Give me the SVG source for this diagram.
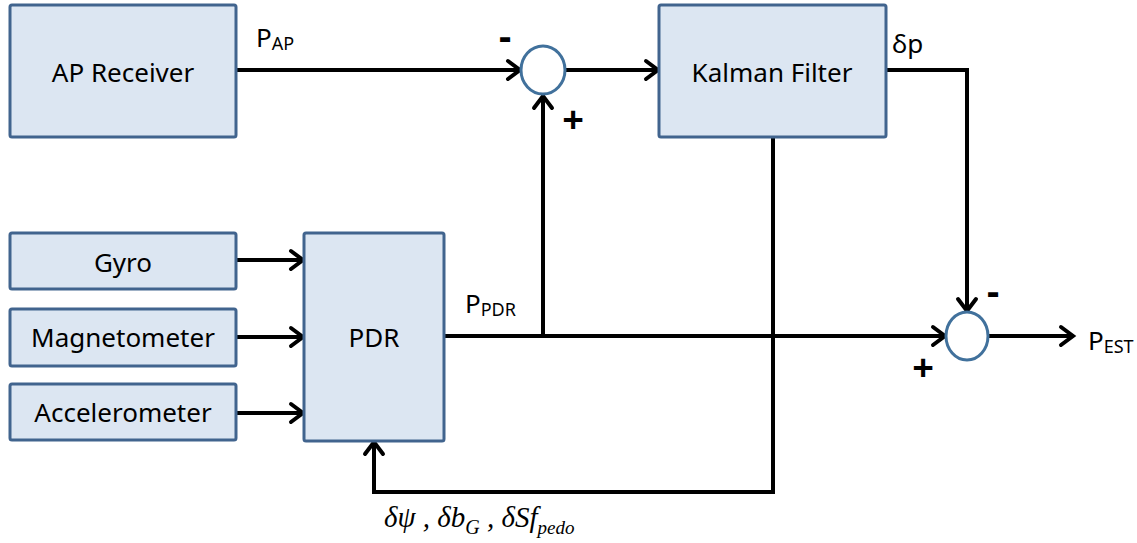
<svg xmlns="http://www.w3.org/2000/svg" width="1137" height="543" viewBox="0 0 1137 543">
<defs>
<style>
.box{fill:#dce6f2;stroke:#41648e;stroke-width:3}
.sum{fill:#ffffff;stroke:#41719c;stroke-width:3}
.lbl{font-family:"Noto Sans","Liberation Sans",sans-serif;font-size:26px;fill:#000;text-anchor:middle}
.sig{font-family:"Noto Sans","Liberation Sans",sans-serif;font-size:26px;fill:#000}
.sub{font-size:18px}
.sgn{font-family:"Noto Sans","Liberation Sans",sans-serif;font-size:38px;font-weight:bold;fill:#000;text-anchor:middle}
.math{font-family:"Liberation Serif","Times New Roman",serif;font-style:italic;font-size:29px;fill:#000}
.ln{fill:none;stroke:#000;stroke-width:4;stroke-linejoin:miter}
</style>
<marker id="arr" markerUnits="userSpaceOnUse" markerWidth="24" markerHeight="26" refX="18" refY="13" orient="auto">
<path d="M6,4 L18,13 L6,22" fill="none" stroke="#000" stroke-width="4" stroke-linecap="round"/>
</marker>
</defs>
<rect width="1137" height="543" fill="#ffffff"/>
<g id="connectors">
<path class="ln" d="M237,70 H520" marker-end="url(#arr)"/>
<path class="ln" d="M566,70 H658" marker-end="url(#arr)"/>
<path class="ln" d="M886,70 H967 V311" marker-end="url(#arr)"/>
<path class="ln" d="M444,336 H945" marker-end="url(#arr)"/>
<path class="ln" d="M543,338 V96" marker-end="url(#arr)"/>
<path class="ln" d="M988,336 H1073" marker-end="url(#arr)"/>
<path class="ln" d="M236,260 H303" marker-end="url(#arr)"/>
<path class="ln" d="M236,337 H303" marker-end="url(#arr)"/>
<path class="ln" d="M236,413 H303" marker-end="url(#arr)"/>
<path class="ln" d="M773,137 V492 H374 V442" marker-end="url(#arr)"/>
</g>
<g id="ap-receiver">
<rect class="box" x="10" y="5" width="226" height="132" rx="2"/>
<text class="lbl" x="123" y="82">AP Receiver</text>
</g>
<g id="kalman-filter">
<rect class="box" x="659" y="5" width="227" height="132" rx="2"/>
<text class="lbl" x="772" y="82">Kalman Filter</text>
</g>
<g id="gyro">
<rect class="box" x="10" y="233" width="226" height="56" rx="2"/>
<text class="lbl" x="123" y="272">Gyro</text>
</g>
<g id="magnetometer">
<rect class="box" x="10" y="309" width="226" height="57" rx="2"/>
<text class="lbl" x="123" y="347">Magnetometer</text>
</g>
<g id="accelerometer">
<rect class="box" x="10" y="384" width="226" height="56" rx="2"/>
<text class="lbl" x="123" y="422">Accelerometer</text>
</g>
<g id="pdr">
<rect class="box" x="304" y="233" width="140" height="208" rx="2"/>
<text class="lbl" x="374" y="347">PDR</text>
</g>
<g id="sum1">
<ellipse class="sum" cx="543" cy="70" rx="22" ry="24"/>
<text class="sgn" x="505" y="50">-</text>
<text class="sgn" x="573" y="133">+</text>
</g>
<g id="sum2">
<ellipse class="sum" cx="967" cy="336" rx="21" ry="24"/>
<text class="sgn" x="993" y="305">-</text>
<text class="sgn" x="923" y="381">+</text>
</g>
<g id="labels">
<text class="sig" x="256" y="47">P<tspan class="sub" dy="3">AP</tspan></text>
<text class="sig" x="892" y="53">δp</text>
<text class="sig" x="465" y="313">P<tspan class="sub" dy="3">PDR</tspan></text>
<text class="sig" x="1088" y="350">P<tspan class="sub" dy="3">EST</tspan></text>
<text class="math" x="384" y="527">δψ , δb<tspan font-size="20" dy="7">G</tspan><tspan dy="-7"> , δSf</tspan><tspan font-size="19" dy="7">pedo</tspan></text>
</g>
</svg>
